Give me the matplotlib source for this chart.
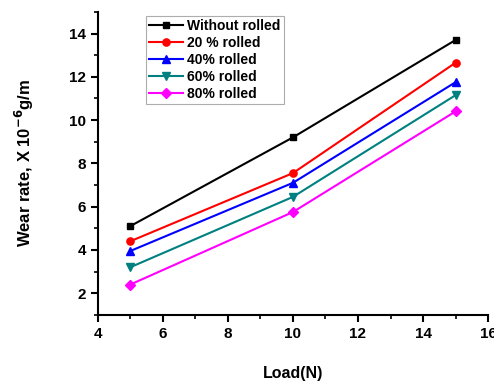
import matplotlib
matplotlib.use("Agg")
import matplotlib.pyplot as plt
from matplotlib.ticker import MultipleLocator

plt.rcParams['font.family'] = ['Liberation Sans', 'DejaVu Sans']
plt.rcParams['font.weight'] = 'bold'

load = [5, 10, 15]
without_rolled = [5.1, 9.2, 13.7]
rolled_20 = [4.4, 7.55, 12.65]
rolled_40 = [3.95, 7.1, 11.75]
rolled_60 = [3.2, 6.45, 11.15]
rolled_80 = [2.4, 5.75, 10.4]
labels = ["Without rolled", "20 % rolled", "40% rolled", "60% rolled", "80% rolled"]

fig = plt.figure(figsize=(4.94, 3.83), dpi=100)
ax = fig.add_axes([0.198, 0.178, 0.79, 0.791])

series = [without_rolled, rolled_20, rolled_40, rolled_60, rolled_80]
colors = ['black', 'red', 'blue', '#008080', 'magenta']
markers = ['s', 'o', '^', 'v', 'D']
msizes = [4.5, 5.2, 5.5, 5.5, 4.8]
for s, c, m, ms, lab in zip(series, colors, markers, msizes, labels):
    ax.plot(load, s, color=c, marker=m, markersize=ms, linewidth=1.5, label=lab)

ax.set_xlim(4, 16)
ax.set_ylim(1, 15)
ax.xaxis.set_major_locator(MultipleLocator(2))
ax.xaxis.set_minor_locator(MultipleLocator(1))
ax.yaxis.set_major_locator(MultipleLocator(2))
ax.yaxis.set_minor_locator(MultipleLocator(1))
ax.spines['top'].set_visible(False)
ax.spines['right'].set_visible(False)
for sp in ['left', 'bottom']:
    ax.spines[sp].set_linewidth(1.5)
ax.tick_params(which='major', direction='out', length=5, width=1.5, labelsize=11)
ax.tick_params(which='minor', direction='out', length=3, width=1.2)
for lab in ax.get_xticklabels() + ax.get_yticklabels():
    lab.set_fontweight('bold')

ax.set_xlabel("Load(N)", fontsize=11.5, fontweight='bold', labelpad=18)
ax.set_ylabel("Wear rate, X 10$^{\\mathbf{-6}}$g/m", fontsize=12, fontweight='bold', labelpad=24)

leg = ax.legend(loc='upper left', bbox_to_anchor=(0.105, 1.01),
                frameon=True, fancybox=False, edgecolor='#999999',
                handlelength=2.5, borderpad=0.2, labelspacing=0.22, handletextpad=0.3,
                prop={'weight': 'bold', 'size': 10})
leg.get_frame().set_linewidth(0.8)

fig.savefig("out.png", dpi=100)
